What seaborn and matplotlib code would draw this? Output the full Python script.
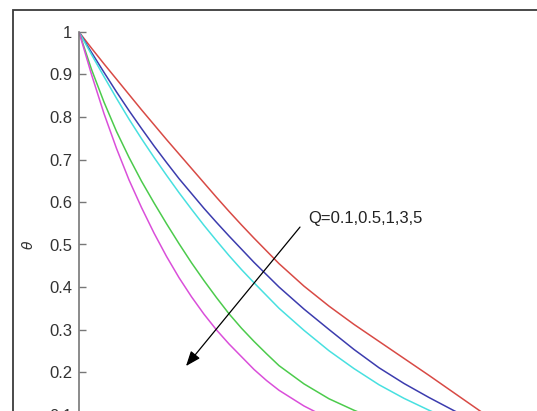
import pandas as pd
import seaborn as sns
import matplotlib.pyplot as plt
from matplotlib.patches import Rectangle

# similarity variable (100 px per unit from the y axis)
eta = [0, 0.125, 0.25, 0.375, 0.5, 0.625, 0.75, 0.875, 1, 1.125, 1.25,
       1.375, 1.5, 1.625, 1.75, 1.875, 2, 2.25, 2.5, 2.75, 3, 3.25, 3.5,
       3.75, 4, 4.25, 4.5]

# temperature profiles for Q = 0.1, 0.5, 1, 3, 5
theta_q01 = [1, .962, .925, .889, .853, .817, .782, .747, .713, .679, .645,
             .611, .578, .546, .515, .485, .455, .402, .355, .312, .272,
             .232, .192, .151, .110, .070, .035]
theta_q05 = [1, .952, .905, .859, .815, .773, .732, .693, .655, .620, .585,
             .552, .520, .489, .458, .429, .400, .348, .300, .253, .210,
             .173, .140, .109, .080, .052, .025]
theta_q1 = [1, .947, .895, .844, .795, .749, .705, .663, .622, .583, .545,
            .509, .474, .441, .410, .380, .350, .298, .250, .208, .170,
            .138, .110, .084, .060, .038, .020]
theta_q3 = [1, .912, .835, .766, .705, .649, .598, .549, .502, .457, .415,
            .375, .337, .303, .272, .243, .215, .172, .137, .110, .086,
            .065, .047, .032, .020, .010, .004]
theta_q5 = [1, .900, .808, .726, .652, .587, .527, .472, .422, .377, .336,
            .299, .266, .236, .206, .180, .157, .120, .090, .068, .050,
            .036, .025, .016, .010, .005, 0]

q_labels = ['0.1', '0.5', '1', '3', '5']
line_colors = ['#d84a45', '#3c3cae', '#48e0e0', '#4ccb4c', '#da4fda']
y_ticks = [0.1, 0.2, 0.3, 0.4, 0.5, 0.6, 0.7, 0.8, 0.9, 1]
y_ticklabels = ['0.1', '0.2', '0.3', '0.4', '0.5', '0.6', '0.7', '0.8', '0.9', '1']

profiles = [theta_q01, theta_q05, theta_q1, theta_q3, theta_q5]
df = pd.concat([pd.DataFrame({'eta': eta, 'theta': th, 'Q': q})
                for q, th in zip(q_labels, profiles)], ignore_index=True)

sns.set_style('white')
plt.rcParams['font.family'] = ['Liberation Sans', 'DejaVu Sans']

fig = plt.figure(figsize=(5.37, 4.11), dpi=100)
# outer frame of the screenshot (only top and left edges are in view)
fig.add_artist(Rectangle((13 / 537, -0.5), 2, 401 / 411 + 0.5,
                         transform=fig.transFigure, fill=False,
                         edgecolor='#3a3a3a', lw=1.3))

ax = fig.add_axes([79 / 537, (411 - 457) / 411, 500 / 537, 425 / 411])
sns.lineplot(data=df, x='eta', y='theta', hue='Q', palette=line_colors,
             lw=1.1, legend=False, sort=False, ax=ax)

ax.set_xlim(0, 5)
ax.set_ylim(0, 1)
ax.set_yticks(y_ticks)
ax.set_yticklabels(y_ticklabels)
ax.set_xticks([])
ax.set_xlabel('')
ax.set_ylabel(r'$\theta$', fontsize=10, labelpad=9, color='#333333')
ax.tick_params(axis='y', direction='in', length=5, width=1, pad=5,
               labelsize=12, color='#777777', labelcolor='#333333', left=True)

for side in ['top', 'right', 'bottom']:
    ax.spines[side].set_visible(False)
ax.spines['left'].set_color('#777777')
ax.spines['left'].set_linewidth(1.2)

ax.annotate('', xy=(1.07, 0.214), xytext=(2.21, 0.541),
            arrowprops=dict(arrowstyle='-|>,head_length=0.9,head_width=0.35',
                            color='black', lw=0.9, shrinkA=0, shrinkB=0))
ax.text(2.29, 0.551, 'Q=0.1,0.5,1,3,5', fontsize=12, color='#222222',
        ha='left', va='baseline')

fig.savefig('out.png', dpi=100)
